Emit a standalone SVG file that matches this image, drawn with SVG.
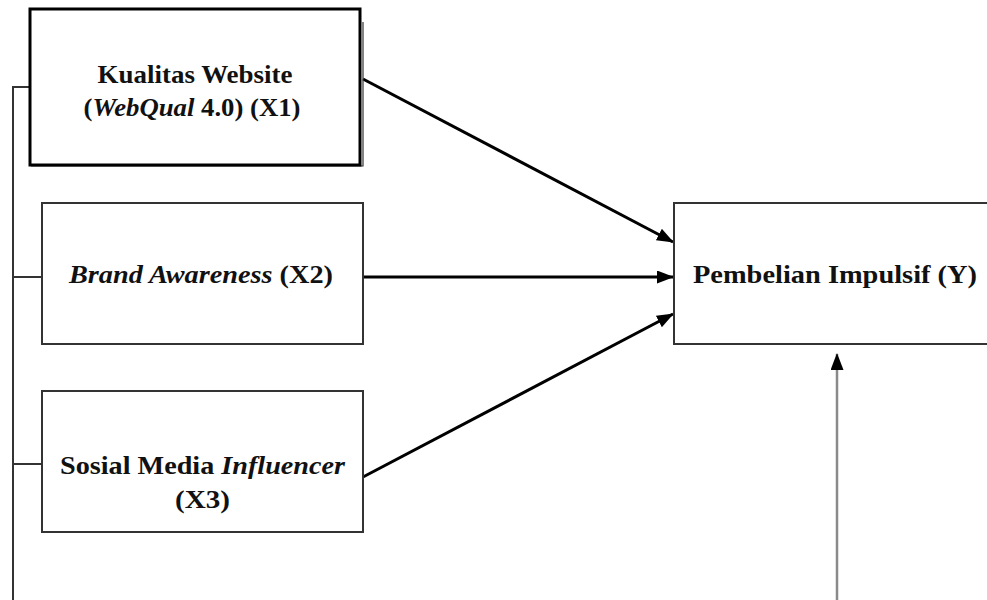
<svg xmlns="http://www.w3.org/2000/svg" width="987" height="600" viewBox="0 0 987 600">
  <style>
    .box { fill: #ffffff; stroke: #333333; stroke-width: 2; }
    .box1 { fill: #ffffff; stroke: #000000; stroke-width: 3; }
    .lbl { font-family: "Liberation Serif", "Times New Roman", serif; font-weight: bold; font-size: 25px; fill: #111111; text-anchor: middle; }
    .it { font-style: italic; }
    .conn { fill: none; stroke: #000000; stroke-width: 3; }
    .bracket { fill: none; stroke: #333333; stroke-width: 2; }
    .gray { fill: none; stroke: #8a8a8a; stroke-width: 2.5; }
  </style>
  <defs>
    <marker id="arrow" markerUnits="userSpaceOnUse" markerWidth="18" markerHeight="14" refX="16" refY="6.5" orient="auto">
      <path d="M0,0 L17,6.5 L0,13 z" fill="#000000"/>
    </marker>
  </defs>
  <rect width="987" height="600" fill="#ffffff"/>

  <g id="connectors">
    <path class="bracket" d="M13,600 V87 H30 M13,277 H42 M13,464 H42"/>
    <line class="conn" x1="363" y1="79" x2="673" y2="242" marker-end="url(#arrow)"/>
    <line class="conn" x1="363" y1="277" x2="673" y2="277" marker-end="url(#arrow)"/>
    <line class="conn" x1="363" y1="477" x2="673" y2="314" marker-end="url(#arrow)"/>
    <line class="gray" x1="837" y1="600" x2="837" y2="354" marker-end="url(#arrow)"/>
  </g>

  <g id="x1">
    <path d="M363,22 V166 H31" fill="none" stroke="#333333" stroke-width="1.2"/>
    <rect class="box1" x="30" y="9" width="330" height="156"/>
    <text class="lbl" x="195" y="83" textLength="195" lengthAdjust="spacingAndGlyphs">Kualitas Website</text>
    <text class="lbl" x="192" y="116" textLength="217" lengthAdjust="spacingAndGlyphs">(<tspan class="it">WebQual</tspan> 4.0) (X1)</text>
  </g>

  <g id="x2">
    <rect class="box" x="42" y="203" width="321" height="141"/>
    <text class="lbl" x="201" y="283" textLength="264" lengthAdjust="spacingAndGlyphs"><tspan class="it">Brand Awareness</tspan> (X2)</text>
  </g>

  <g id="x3">
    <rect class="box" x="42" y="391" width="321" height="141"/>
    <text class="lbl" x="202.5" y="474" textLength="285" lengthAdjust="spacingAndGlyphs">Sosial Media <tspan class="it">Influencer</tspan></text>
    <text class="lbl" x="202.5" y="508" textLength="55" lengthAdjust="spacingAndGlyphs">(X3)</text>
  </g>

  <g id="y">
    <rect class="box" x="674" y="203" width="330" height="141"/>
    <text class="lbl" x="835" y="283" textLength="284" lengthAdjust="spacingAndGlyphs">Pembelian Impulsif (Y)</text>
  </g>
</svg>
